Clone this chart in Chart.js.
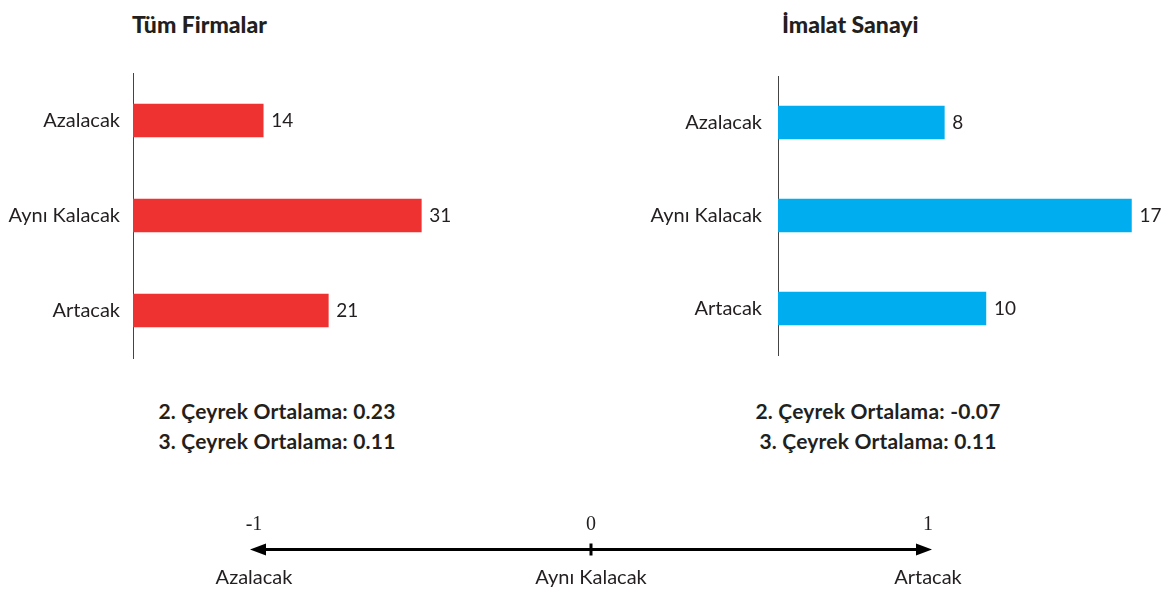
<!DOCTYPE html>
<html lang="tr">
<head>
<meta charset="utf-8">
<script src="https://cdn.jsdelivr.net/npm/chart.js@4.4.1/dist/chart.umd.min.js"></script>
<style>
    body { margin: 0; background: #fff; }
    #wrap { position: relative; width: 1173px; height: 592px; overflow: hidden; font-family: 'Lato', sans-serif; color: #231f20; }
    canvas { position: absolute; }
    .title { position: absolute; top: 10px; font-size: 23px; font-weight: 900; }
    .ozet { position: absolute; top: 396px; width: 340px; text-align: center; font-size: 21px; font-weight: 700; line-height: 30px; letter-spacing: 0.2px; }
</style>
</head>
<body>
<div id="wrap">
    <div class="title" style="left:132px">Tüm Firmalar</div>
    <div class="title" style="left:782px">İmalat Sanayi</div>
    <canvas id="chartTum" width="505" height="319" style="left:0;top:56px"></canvas>
    <canvas id="chartImalat" width="533" height="319" style="left:640px;top:56px"></canvas>
    <div class="ozet" id="ozetTum" style="left:107px"></div>
    <div class="ozet" id="ozetImalat" style="left:708px"></div>
    <canvas id="chartOlcek" width="838" height="92" style="left:150px;top:501px"></canvas>
</div>
<script>
// veriler
const categories = ['Azalacak', 'Aynı Kalacak', 'Artacak'];
const tumFirmalar = [14, 31, 21];
const imalatSanayi = [8, 17, 10];
const ortalamaTum = [0.23, 0.11];      // 2. ve 3. çeyrek
const ortalamaImalat = [-0.07, 0.11];
const scaleTicks = [-1, 0, 1];
const scaleLabels = ['Azalacak', 'Aynı Kalacak', 'Artacak'];

const textColor = '#231f20';

// bar sonuna değer yazdır
const valueLabels = {
    id: 'valueLabels',
    afterDatasetsDraw(chart) {
        const ctx = chart.ctx;
        ctx.save();
        ctx.font = '19px Lato';
        ctx.fillStyle = textColor;
        ctx.textBaseline = 'middle';
        chart.getDatasetMeta(0).data.forEach((bar, i) => {
            ctx.fillText(chart.data.datasets[0].data[i], bar.x + 8, bar.y);
        });
        ctx.restore();
    }
};

function barChart(id, values, color, max, axisWidth, pad) {
    const ctx = document.getElementById(id).getContext('2d');
    return new Chart(ctx, {
        type: 'bar',
        data: {
            labels: categories,
            datasets: [{ data: values, backgroundColor: color, barThickness: 33 }]
        },
        options: {
            indexAxis: 'y',
            responsive: false,
            animation: false,
            devicePixelRatio: 1,
            layout: { padding: 0 },
            plugins: { legend: { display: false }, tooltip: { enabled: false } },
            scales: {
                x: { display: false, min: 0, max: max },
                y: {
                    grid: { display: false },
                    border: { display: true, color: '#444', width: 1 },
                    ticks: { font: { family: 'Lato', size: 20 }, color: textColor, padding: pad },
                    afterFit: s => { s.width = axisWidth; }
                }
            }
        },
        plugins: [valueLabels]
    });
}

barChart('chartTum', tumFirmalar, '#EE3131', 40, 133, 5);
barChart('chartImalat', imalatSanayi, '#00AEEF', 19, 138, 8);

// ortalama yazıları
function ozet(id, vals) {
    document.getElementById(id).innerHTML =
        `2. Çeyrek Ortalama: ${vals[0]}<br>3. Çeyrek Ortalama: ${vals[1]}`;
}
ozet('ozetTum', ortalamaTum);
ozet('ozetImalat', ortalamaImalat);

// ok uçları
const arrowHeads = {
    id: 'arrowHeads',
    afterDatasetsDraw(chart) {
        const ctx = chart.ctx;
        const xs = chart.scales.x, ys = chart.scales.y;
        const y = ys.getPixelForValue(0);
        const x1 = xs.getPixelForValue(scaleTicks[0]);
        const x2 = xs.getPixelForValue(scaleTicks[scaleTicks.length - 1]);
        ctx.save();
        ctx.fillStyle = '#000';
        ctx.beginPath();
        ctx.moveTo(x1 - 4, y); ctx.lineTo(x1 + 12, y - 6); ctx.lineTo(x1 + 12, y + 6); ctx.closePath();
        ctx.moveTo(x2 + 4, y); ctx.lineTo(x2 - 12, y - 6); ctx.lineTo(x2 - 12, y + 6); ctx.closePath();
        ctx.fill();
        ctx.restore();
    }
};

new Chart(document.getElementById('chartOlcek').getContext('2d'), {
    type: 'line',
    data: {
        datasets: [
            {
                data: [{ x: scaleTicks[0], y: 0 }, { x: scaleTicks[2], y: 0 }],
                borderColor: '#000', borderWidth: 3, pointRadius: 0, clip: false
            },
            {
                data: [{ x: scaleTicks[1], y: 0 }],
                showLine: false, clip: false,
                pointStyle: 'line', pointRotation: 90, pointRadius: 6,
                pointBorderWidth: 3, pointBorderColor: '#000', borderColor: '#000'
            }
        ]
    },
    options: {
        responsive: false,
        animation: false,
        devicePixelRatio: 1,
        layout: { padding: { left: 104, right: 60, top: 10, bottom: 0 } },
        plugins: { legend: { display: false }, tooltip: { enabled: false } },
        scales: {
            x: {
                type: 'linear', position: 'top', min: -1, max: 1,
                grid: { display: false }, border: { display: false },
                ticks: { stepSize: 1, font: { family: 'Liberation Serif', size: 20 }, color: textColor, padding: 2 }
            },
            x2: {
                type: 'linear', axis: 'x', position: 'bottom', min: -1, max: 1,
                grid: { display: false }, border: { display: false },
                ticks: {
                    stepSize: 1, font: { family: 'Lato', size: 20 }, color: textColor, padding: 6,
                    callback: v => scaleLabels[scaleTicks.indexOf(v)]
                }
            },
            y: { display: false, min: -1, max: 1 }
        }
    },
    plugins: [arrowHeads]
});
</script>
</body>
</html>
